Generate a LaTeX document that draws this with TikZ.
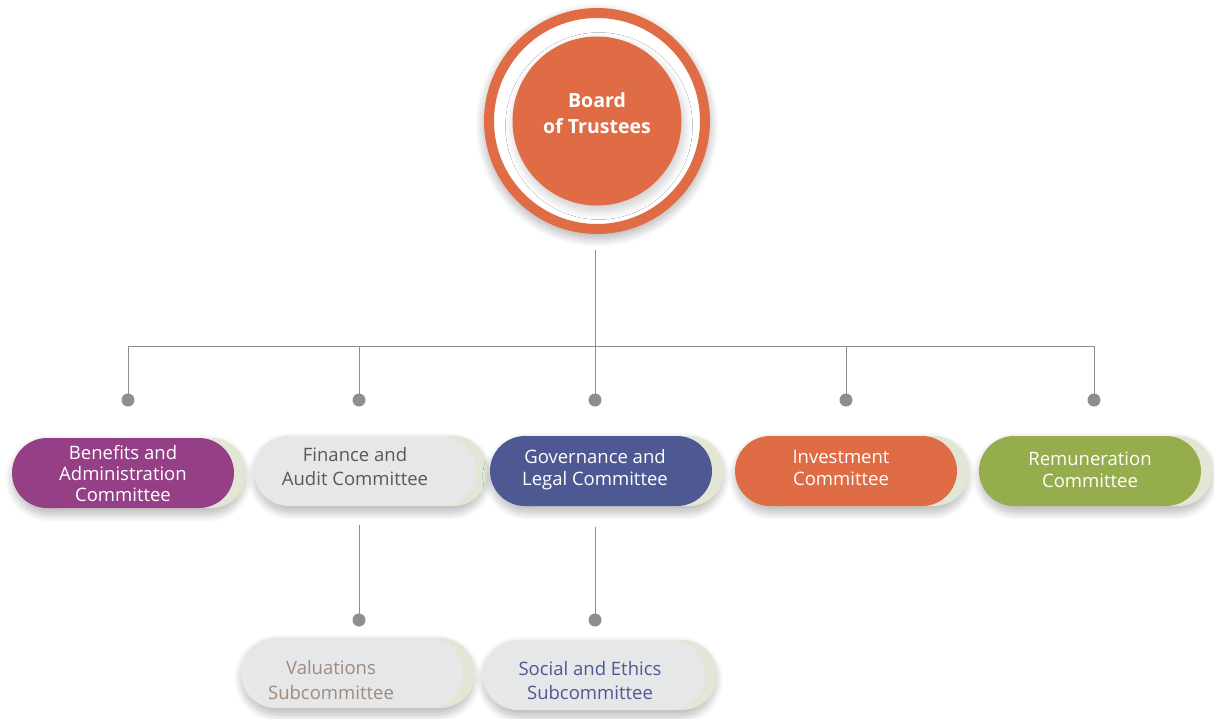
\documentclass[tikz,border=0pt]{standalone}
\usepackage{fontspec}
\setmainfont{Open Sans}
\usetikzlibrary{shadows.blur}

\definecolor{boardorange}{HTML}{E06C45}
\definecolor{plum}{HTML}{943F86}
\definecolor{navy}{HTML}{4E5993}
\definecolor{olive}{HTML}{95AD4D}
\definecolor{paleGray}{HTML}{E6E7E9}
\definecolor{backGreen}{HTML}{E2E6D4}
\definecolor{darkText}{HTML}{58595B}
\definecolor{taupe}{HTML}{A08A7E}
\definecolor{linkGray}{HTML}{8D8E92}

\begin{document}
\begin{tikzpicture}[x=1pt,y=-1pt,
  pill/.style={rounded corners=35pt,minimum width=222pt,minimum height=70pt,
      inner sep=0pt,outer sep=0pt},
  backpill/.style={pill,fill=backGreen,
      blur shadow={shadow xshift=-6pt,shadow yshift=-5pt,shadow scale=1.05,
      shadow blur radius=7pt,shadow blur steps=12,shadow opacity=26}},
  label/.style={align=center,inner sep=0pt,font=\fontsize{18.5}{22}\selectfont},
  dot/.style={circle,fill=linkGray,minimum size=13pt,inner sep=0pt},
  link/.style={draw=linkGray,line width=0.9pt}]
\useasboundingbox (0,0) rectangle (1214,718);

% Board of Trustees emblem
\node[circle,draw=boardorange,fill=white,line width=10pt,minimum size=216pt,
  inner sep=0pt,
  blur shadow={shadow xshift=0pt,shadow yshift=-4pt,shadow scale=1.05,
    shadow blur radius=8pt,shadow blur steps=12,shadow opacity=30}] (ring) at (597,121) {};
\node[circle,fill=boardorange,minimum size=169pt,inner sep=0pt,
  blur shadow={shadow xshift=2pt,shadow yshift=-5pt,shadow blur radius=9pt,
    shadow blur steps=14,shadow opacity=22}] (board) at (597,121) {};
\node[align=center,text=white,inner sep=0pt,
  font=\fontsize{19.5}{26}\selectfont\bfseries] (boardT) at (597,113)
  {Board\\of Trustees};

% connector anchors
\coordinate (stem) at (595,250);
\coordinate (hub) at (595,346);
\node[dot] (d1) at (128,400) {};
\node[dot] (d2) at (359,400) {};
\node[dot] (d3) at (595,400) {};
\node[dot] (d4) at (846,400) {};
\node[dot] (d5) at (1094,400) {};
\node[dot] (d6) at (359,620) {};
\node[dot] (d7) at (595,620) {};
\coordinate (finStem) at (359,525);
\coordinate (govStem) at (595,527);

\draw[link] (stem) -- (d3.center);
\draw[link] (d1.center) -- (d1 |- hub) -- (d5 |- hub) -- (d5.center);
\draw[link] (d2.center) -- (d2 |- hub);
\draw[link] (d4.center) -- (d4 |- hub);
\draw[link] (finStem) -- (d6.center);
\draw[link] (govStem) -- (d7.center);

% committees
\node[backpill] (benB) at (135,473) {};
\node[pill,fill=plum] (ben) at (123,473) {};
\node[label,text=white,font=\fontsize{18.5}{21}\selectfont] (benT) at (123,474)
  {Benefits and\\Administration\\Committee};

\node[backpill] (finB) at (377,471) {};
\node[pill,fill=paleGray] (fin) at (365,471) {};
\node[label,text=darkText,font=\fontsize{18.5}{24}\selectfont] (finT) at (355,467)
  {Finance and\\Audit Committee};

\node[backpill] (govB) at (613,471) {};
\node[pill,fill=navy] (gov) at (601,471) {};
\node[label,text=white] (govT) at (595,470)
  {Governance and\\Legal Committee};

\node[backpill] (invB) at (858,471) {};
\node[pill,fill=boardorange] (inv) at (846,471) {};
\node[label,text=white] (invT) at (841,468)
  {Investment\\Committee};

\node[backpill] (remB) at (1102,471) {};
\node[pill,fill=olive] (rem) at (1090,471) {};
\node[label,text=white] (remT) at (1090,469.5)
  {Remuneration\\Committee};

% subcommittees
\node[backpill] (valB) at (364,673) {};
\node[pill,fill=paleGray] (val) at (352,673) {};
\node[label,text=taupe,font=\fontsize{18.5}{25}\selectfont] (valT) at (331,680)
  {Valuations\\Subcommittee};

\node[backpill] (socB) at (606,675) {};
\node[pill,fill=paleGray] (soc) at (594,675) {};
\node[label,text=navy,font=\fontsize{18.5}{24}\selectfont] (socT) at (590,681)
  {Social and Ethics\\Subcommittee};
\end{tikzpicture}
\end{document}
